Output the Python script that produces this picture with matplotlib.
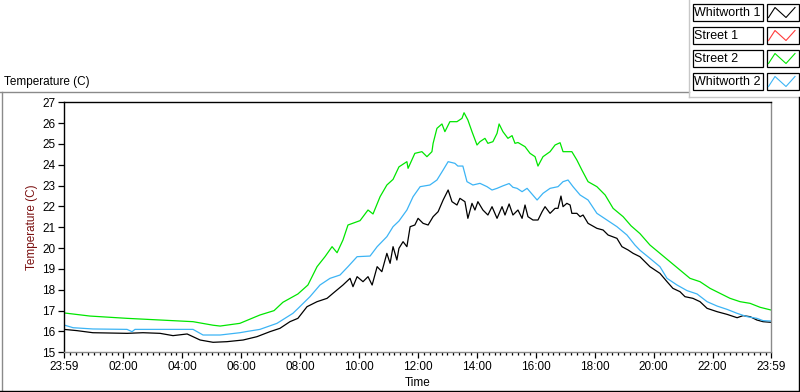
import numpy as np
import matplotlib.pyplot as plt
from matplotlib.lines import Line2D
from matplotlib.patches import Rectangle

plt.rcParams['font.family'] = ['Liberation Sans', 'DejaVu Sans']

# time axis: hours elapsed since 23:59
tick_labels = ['23:59', '02:00', '04:00', '06:00', '08:00', '10:00', '12:00',
               '14:00', '16:00', '18:00', '20:00', '22:00', '23:59']

names = ['Whitworth 1', 'Street 1', 'Street 2', 'Whitworth 2']
colors = ['#000000', '#ff3b3b', '#00e600', '#3cb4f5']

whit1_h = [0, 0.44, 0.98, 2.14, 2.68, 3.26, 3.70, 4.18, 4.62, 5.06, 5.53, 6.08, 6.55,
           6.99, 7.33, 7.67, 7.94, 8.25, 8.59, 8.93, 9.13, 9.47, 9.71, 9.81, 9.95,
           10.15, 10.32, 10.46, 10.63, 10.79, 10.96, 11.07, 11.17, 11.30, 11.37, 11.51,
           11.64, 11.75, 11.91, 12.02, 12.19, 12.36, 12.53, 12.70, 12.87, 13.04, 13.17,
           13.34, 13.44, 13.61, 13.71, 13.85, 13.95, 14.05, 14.22, 14.39, 14.53, 14.70,
           14.87, 14.97, 15.11, 15.24, 15.41, 15.55, 15.65, 15.75, 15.92, 16.09, 16.23,
           16.33, 16.50, 16.67, 16.77, 16.87, 16.94, 17.07, 17.18, 17.24, 17.41, 17.52,
           17.62, 17.79, 18.09, 18.30, 18.47, 18.77, 18.94, 19.15, 19.32, 19.55, 19.89,
           20.23, 20.47, 20.67, 20.91, 21.08, 21.35, 21.59, 21.83, 22.17, 22.51, 22.85,
           23.05, 23.29, 23.52, 23.73, 24.0]
whit1_t = [16.10, 16.04, 15.94, 15.91, 15.94, 15.91, 15.80, 15.88, 15.59, 15.48, 15.51,
           15.59, 15.75, 15.99, 16.15, 16.47, 16.63, 17.19, 17.43, 17.59, 17.83, 18.23,
           18.55, 18.15, 18.63, 18.39, 18.63, 18.23, 19.11, 18.87, 19.75, 19.27, 20.07,
           19.43, 19.99, 20.31, 20.07, 21.03, 21.11, 21.43, 21.19, 21.11, 21.51, 21.75,
           22.31, 22.79, 22.23, 22.07, 22.39, 22.23, 21.43, 22.15, 21.83, 22.23, 21.83,
           21.59, 21.99, 21.43, 21.99, 21.59, 22.12, 21.59, 21.83, 21.43, 22.07, 21.51,
           21.35, 21.35, 21.75, 21.99, 21.67, 21.91, 21.91, 22.50, 21.99, 22.15, 22.07,
           21.67, 21.67, 21.51, 21.59, 21.19, 20.95, 20.87, 20.63, 20.47, 20.07, 19.91,
           19.75, 19.59, 19.11, 18.79, 18.39, 18.07, 17.91, 17.67, 17.59, 17.43, 17.11,
           16.95, 16.82, 16.66, 16.76, 16.71, 16.55, 16.47, 16.44]

street1_h = []
street1_t = []

street2_h = [0, 0.88, 2.14, 3.26, 4.38, 5.06, 5.30, 5.97, 6.65, 7.13, 7.43, 7.94, 8.28,
             8.59, 8.86, 9.10, 9.27, 9.47, 9.64, 10.05, 10.32, 10.49, 10.73, 10.96, 11.17,
             11.37, 11.64, 11.68, 11.91, 12.15, 12.32, 12.49, 12.53, 12.66, 12.83, 12.93,
             13.10, 13.34, 13.51, 13.58, 13.71, 13.85, 14.02, 14.12, 14.29, 14.39, 14.56,
             14.70, 14.77, 14.90, 15.07, 15.21, 15.31, 15.41, 15.65, 15.82, 15.99, 16.09,
             16.26, 16.50, 16.67, 16.84, 16.94, 17.24, 17.41, 17.58, 17.79, 18.09, 18.37,
             18.64, 18.98, 19.25, 19.55, 19.89, 20.23, 20.57, 20.91, 21.25, 21.59, 21.93,
             22.27, 22.61, 22.95, 23.29, 23.63, 24.0]
street2_t = [16.89, 16.74, 16.63, 16.55, 16.47, 16.30, 16.26, 16.39, 16.79, 17.00, 17.40,
             17.80, 18.23, 19.11, 19.59, 20.07, 19.78, 20.39, 21.11, 21.32, 21.83, 21.64,
             22.47, 23.03, 23.30, 23.90, 24.15, 23.83, 24.55, 24.63, 24.39, 24.63, 25.03,
             25.75, 25.96, 25.59, 26.07, 26.07, 26.23, 26.50, 26.15, 25.59, 24.95, 25.11,
             25.27, 25.03, 25.11, 25.51, 25.96, 25.59, 25.27, 25.40, 25.03, 25.07, 24.87,
             24.55, 24.39, 23.94, 24.39, 24.63, 24.95, 25.06, 24.63, 24.63, 24.23, 23.75,
             23.19, 22.95, 22.55, 21.91, 21.51, 21.07, 20.70, 20.15, 19.75, 19.35, 18.95,
             18.55, 18.39, 18.07, 17.83, 17.59, 17.43, 17.35, 17.16, 17.03]

whit2_h = [0, 0.31, 0.98, 2.14, 2.31, 2.41, 3.26, 4.38, 4.72, 5.30, 5.97, 6.21, 6.65,
           7.23, 7.77, 7.94, 8.35, 8.69, 9.03, 9.37, 9.64, 9.95, 10.39, 10.63, 10.96,
           11.17, 11.37, 11.64, 11.85, 12.09, 12.42, 12.66, 12.87, 13.04, 13.27, 13.37,
           13.54, 13.68, 13.88, 14.12, 14.36, 14.53, 14.70, 14.90, 15.11, 15.24, 15.38,
           15.55, 15.72, 16.06, 16.26, 16.50, 16.77, 16.94, 17.11, 17.28, 17.52, 17.79,
           18.09, 18.43, 18.77, 19.11, 19.38, 19.55, 19.89, 20.23, 20.47, 20.81, 21.15,
           21.49, 21.83, 22.17, 22.51, 22.85, 23.19, 23.52, 23.73, 24.0]
whit2_t = [16.31, 16.18, 16.12, 16.10, 15.99, 16.10, 16.10, 16.10, 15.83, 15.83, 15.94,
           16.00, 16.10, 16.39, 16.87, 17.10, 17.67, 18.23, 18.55, 18.71, 19.11, 19.59,
           19.62, 20.07, 20.55, 21.03, 21.30, 21.83, 22.47, 22.95, 23.03, 23.27, 23.75,
           24.15, 24.07, 23.94, 23.94, 23.19, 23.03, 23.11, 22.95, 22.79, 22.87, 22.99,
           23.10, 22.92, 22.87, 22.71, 22.87, 22.31, 22.63, 22.87, 22.95, 23.19, 23.27,
           22.95, 22.55, 22.31, 21.67, 21.35, 21.03, 20.63, 20.15, 19.90, 19.51, 19.11,
           18.55, 18.23, 17.96, 17.80, 17.43, 17.22, 17.06, 16.87, 16.71, 16.63, 16.52,
           16.50]

W, H = 800, 392


def px(x, y):
    return x / W, 1 - y / H


fig = plt.figure(figsize=(8, 3.92), dpi=100)
ax = fig.add_axes([64 / W, 1 - 352.3 / H, 707 / W, 250 / H])

series = [(whit1_h, whit1_t), (street1_h, street1_t), (street2_h, street2_t), (whit2_h, whit2_t)]
for (h, t), c in zip(series, colors):
    ax.plot(h, t, color=c, lw=0.9)

ax.set_xlim(0, 24)
ax.set_ylim(15, 27)
ax.set_yticks(np.arange(15, 28, 1))
major = [0] + [2 * k + 1 / 60 for k in range(1, 12)] + [24]
ax.set_xticks(major)
ax.set_xticklabels(tick_labels)
minor = [2 * k + 1 / 60 - 0.2 * j for k in range(1, 13) for j in range(1, 10)]
ax.set_xticks([m for m in minor if 0 < m < 24], minor=True)
ax.tick_params(axis='both', which='major', direction='out', length=4, width=0.9,
               labelsize=8.5, pad=2, colors='black')
ax.tick_params(axis='x', which='minor', direction='out', length=2, width=0.9)
ax.spines['top'].set_color('black')
ax.spines['left'].set_color('black')
ax.spines['right'].set_color('#8a8a8a')
ax.spines['bottom'].set_color('#8a8a8a')
for s in ax.spines.values():
    s.set_linewidth(1.0)
ax.set_ylabel('Temperature (C)', color='#7a1010', fontsize=8.5, labelpad=3)
ax.set_xlabel('Time', fontsize=8.5, labelpad=3)


# panel frame
def fline(x0, y0, x1, y1, c):
    a, b = px(x0, y0)
    d, e = px(x1, y1)
    fig.add_artist(Line2D([a, d], [b, e], color=c, lw=1.0))


fline(0, 91.5, 689, 91.5, '#8a8a8a')
fline(1.5, 91.5, 1.5, 392, '#8a8a8a')
fline(689, 0, 689, 96.5, '#c8c8c8')
fline(689, 96.5, 800, 96.5, '#c8c8c8')
fline(0, 390.5, 800, 390.5, 'black')
fline(799, 96.5, 799, 392, 'black')

x, y = px(4, 82)
fig.text(x, y, 'Temperature (C)', fontsize=8.5, va='center', ha='left')

# legend
for i, (name, c) in enumerate(zip(names, colors)):
    top = 4.5 + i * 23
    x0, y0 = px(692.5, top + 16)
    fig.add_artist(Rectangle((x0, y0), 70 / W, 16 / H, transform=fig.transFigure,
                             fill=False, ec='black', lw=0.9))
    x0, y0 = px(766.5, top + 16)
    fig.add_artist(Rectangle((x0, y0), 32 / W, 16 / H, transform=fig.transFigure,
                             fill=False, ec='black', lw=0.9))
    zx = [768.5, 775, 786, 795]
    zy = [top + 13, top + 3, top + 13, top + 3]
    pts = [px(a, b) for a, b in zip(zx, zy)]
    fig.add_artist(Line2D([p[0] for p in pts], [p[1] for p in pts], color=c, lw=0.8))
    tx, ty = px(694.5, top + 8.5)
    fig.text(tx, ty, name, fontsize=9, va='center', ha='left')

fig.savefig('out.png', dpi=100, facecolor='white')
